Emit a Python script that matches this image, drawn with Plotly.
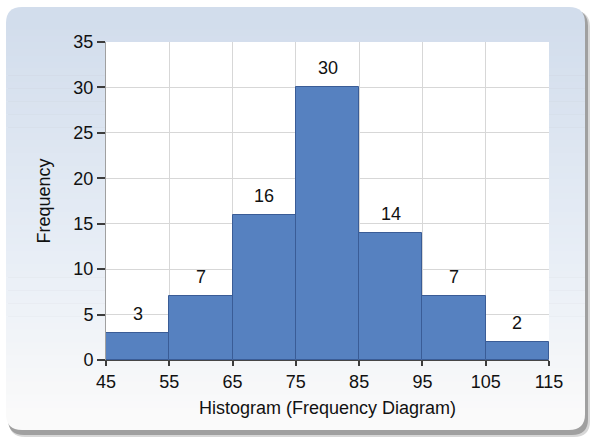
import plotly.graph_objects as go

# ---- data ----
bin_edges = [45, 55, 65, 75, 85, 95, 105, 115]
frequencies = [3, 7, 16, 30, 14, 7, 2]
x_tick_labels = ["45", "55", "65", "75", "85", "95", "105", "115"]
y_tick_values = [0, 5, 10, 15, 20, 25, 30, 35]

centers = [(a + b) / 2 for a, b in zip(bin_edges[:-1], bin_edges[1:])]
widths = [b - a for a, b in zip(bin_edges[:-1], bin_edges[1:])]

W, H = 596, 442
L, R, T, B = 106, 47, 42, 82
PW, PH = W - L - R, H - T - B


def px(x):
    return (x - L) / PW


def py(y):
    return (H - B - y) / PH


def rrect(x0, y0, x1, y1, r, top=True, bottom=True):
    rx, ry = r / PW, r / PH
    X0, X1 = px(x0), px(x1)
    Y0, Y1 = py(y0), py(y1)
    p = ""
    if top:
        p += f"M{X0},{Y0 - ry} Q{X0},{Y0} {X0 + rx},{Y0} L{X1 - rx},{Y0} Q{X1},{Y0} {X1},{Y0 - ry} "
    else:
        p += f"M{X0},{Y0} L{X1},{Y0} "
    if bottom:
        p += f"L{X1},{Y1 + ry} Q{X1},{Y1} {X1 - rx},{Y1} L{X0 + rx},{Y1} Q{X0},{Y1} {X0},{Y1 + ry} Z"
    else:
        p += f"L{X1},{Y1} L{X0},{Y1} Z"
    return p


def lerp(c1, c2, t):
    return "rgb(%d,%d,%d)" % tuple(round(a + (b - a) * t) for a, b in zip(c1, c2))


shapes = []
bx0, by0, bx1, by1, rad = 6, 7, 585, 430, 16
shapes.append(dict(type="path", path=rrect(bx0 + 3, by0 + 4, bx1 + 5, by1 + 7, rad),
                   xref="paper", yref="paper", fillcolor="rgb(215,215,215)", line_width=0, layer="below"))
shapes.append(dict(type="path", path=rrect(bx0 + 2, by0 + 3, bx1 + 3, by1 + 5, rad),
                   xref="paper", yref="paper", fillcolor="rgb(160,160,160)", line_width=0, layer="below"))
top_c = (210, 221, 236)
mid_c = (232, 238, 246)
bot_c = (250, 250, 250)
shapes.append(dict(type="path", path=rrect(bx0, by0, bx1, by0 + rad + 1, rad, top=True, bottom=False),
                   xref="paper", yref="paper", fillcolor=lerp(top_c, top_c, 0), line_width=0, layer="below"))
shapes.append(dict(type="path", path=rrect(bx0, by1 - rad - 1, bx1, by1, rad, top=False, bottom=True),
                   xref="paper", yref="paper", fillcolor=lerp(bot_c, bot_c, 0), line_width=0, layer="below"))
N = 60
ya, yb = by0 + rad, by1 - rad
for i in range(N):
    y0 = ya + (yb - ya) * i / N
    y1 = ya + (yb - ya) * (i + 1) / N + 0.6
    t = (i + 0.5) / N
    if t < 0.6:
        c = lerp(top_c, mid_c, t / 0.6)
    else:
        c = lerp(mid_c, bot_c, (t - 0.6) / 0.4)
    shapes.append(dict(type="rect", x0=px(bx0), x1=px(bx1), y0=py(y1), y1=py(y0),
                       xref="paper", yref="paper", fillcolor=c, line_width=0, layer="below"))
shapes.append(dict(type="rect", x0=0, x1=1, y0=0, y1=1, xref="paper", yref="paper",
                   fillcolor="white", line_width=0, layer="below"))

fig = go.Figure()
fig.add_trace(go.Bar(
    x=centers, y=frequencies, width=widths,
    marker=dict(color="rgb(86,129,192)", line=dict(color="rgb(58,92,150)", width=1)),
    hoverinfo="x+y",
))

FS = 18
font = dict(family="Liberation Sans, Arial, sans-serif", size=FS, color="#111")

annotations = []
for c, f in zip(centers, frequencies):
    annotations.append(dict(x=c, y=f, xref="x", yref="y", text=str(f), showarrow=False,
                            yanchor="bottom", yshift=7, font=font))

fig.update_layout(
    width=W, height=H,
    margin=dict(l=L, r=R, t=T, b=B, pad=0),
    paper_bgcolor="white",
    plot_bgcolor="white",
    showlegend=False,
    font=font,
    shapes=shapes,
    annotations=annotations,
    bargap=0,
    xaxis=dict(
        range=[bin_edges[0], bin_edges[-1]],
        tickmode="array", tickvals=bin_edges, ticktext=x_tick_labels,
        showgrid=True, gridcolor="rgb(215,215,215)", gridwidth=1,
        showline=True, linecolor="rgb(70,70,70)", linewidth=1,
        ticks="outside", ticklen=5, tickcolor="rgb(60,60,60)", tickwidth=1.5,
        zeroline=False,
        title=dict(text="Histogram (Frequency Diagram)", standoff=10, font=font),
        tickfont=font,
    ),
    yaxis=dict(
        range=[0, 35],
        tickmode="array", tickvals=y_tick_values,
        showgrid=True, gridcolor="rgb(215,215,215)", gridwidth=1,
        showline=True, linecolor="rgb(160,160,160)", linewidth=1,
        ticks="outside", ticklen=8, tickcolor="rgb(60,60,60)", tickwidth=1.5,
        zeroline=False,
        title=dict(text="Frequency", standoff=18, font=font),
        tickfont=font,
    ),
)

fig.write_html("out.html", config={"displayModeBar": False},
               post_script="document.body.style.margin='0';document.body.style.padding='0';")
